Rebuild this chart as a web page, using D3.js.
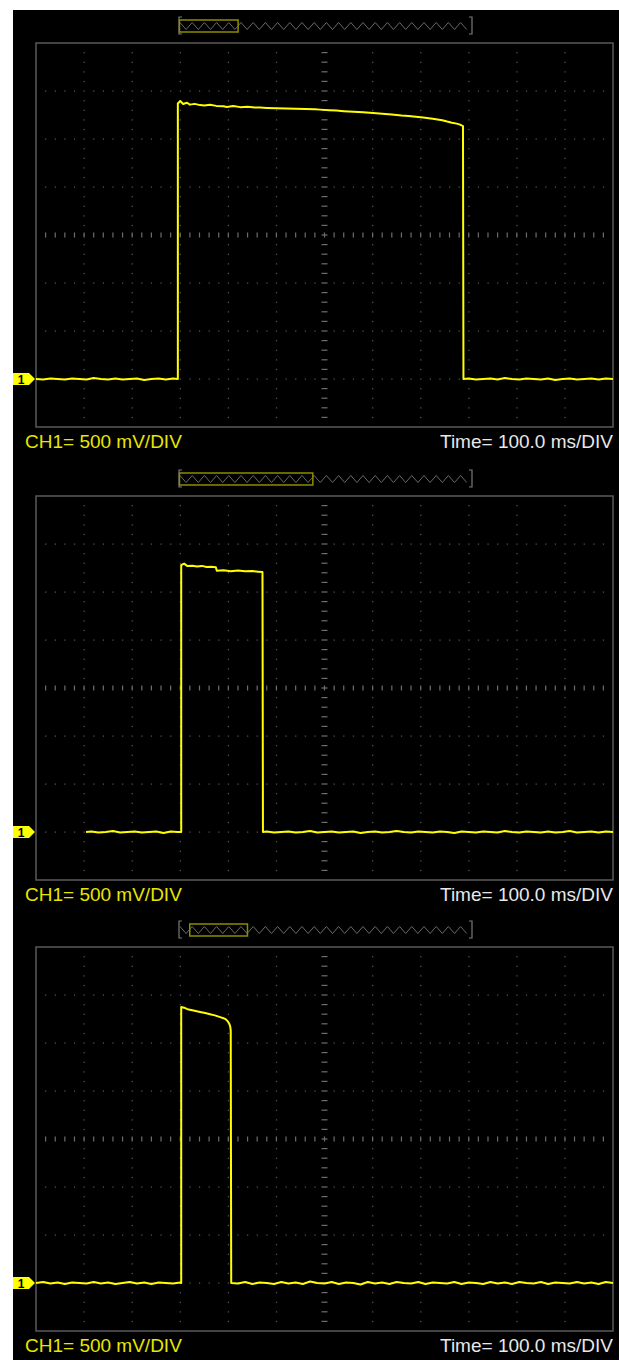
<!DOCTYPE html>
<html>
<head>
<meta charset="utf-8">
<script src="https://cdn.jsdelivr.net/npm/d3@7"></script>
<style>
  html, body { margin: 0; padding: 0; background: #fff; }
  svg { display: block; }
</style>
</head>
<body>
<div id="scope"></div>
<script>
// captured traces: [time ms, CH1 mV], ground = 0 mV
const trace1 = [
  [0, 0], [15, -5], [30, 5], [45, 0], [60, -5], [75, 5], [90, 0], [105, -5], [120, 10], [135, 0],
  [150, -5], [165, 5], [180, -5], [195, 0], [210, 5], [225, -10], [240, 0], [255, 5], [270, -5],
  [285, 5], [295, 0],
  [295, 2870], [300, 2895], [306, 2865], [314, 2878], [320, 2858], [330, 2866], [341, 2853], [350, 2850],
  [362, 2857], [375, 2845], [390, 2840], [397, 2834], [410, 2843], [425, 2832], [440, 2835], [455, 2828],
  [466, 2827], [480, 2824], [500, 2820], [520, 2818], [540, 2815], [560, 2812], [580, 2810], [591, 2806],
  [610, 2800], [625, 2796], [640, 2790], [660, 2783], [680, 2778], [701, 2770], [720, 2763], [740, 2755],
  [760, 2745], [775, 2740], [790, 2732], [805, 2724], [813, 2719], [825, 2710], [835, 2703], [845, 2696],
  [855, 2682], [865, 2670], [875, 2660], [882, 2650], [888, 2635],
  [889, 0], [900, 5], [915, -5], [930, 0], [945, 5], [960, -5], [975, 10], [990, 0], [1005, -5],
  [1020, 5], [1035, 0], [1050, -5], [1065, 5], [1080, -10], [1095, 0], [1110, 5], [1125, -5],
  [1140, 0], [1155, 5], [1170, -5], [1185, 5], [1200, 0],
];

const trace2 = [
  [104, 0], [115, 5], [130, -5], [145, 0], [160, 10], [175, -5], [190, 0], [205, 5], [220, -5],
  [235, 0], [250, 5], [265, -10], [280, 5], [295, 0], [302, 0],
  [302, 2780], [308, 2795], [315, 2770], [325, 2774], [335, 2765], [345, 2772], [355, 2760], [365, 2763],
  [374, 2758], [376, 2722], [390, 2726], [405, 2717], [420, 2723], [435, 2715], [450, 2718], [462, 2712],
  [471, 2708],
  [472, 0], [480, 5], [495, -5], [510, 0], [525, 5], [540, -5], [555, 0], [570, 10], [585, -5],
  [600, 0], [615, 5], [630, -5], [645, 0], [660, 5], [675, -10], [690, 0], [705, 5], [720, -5],
  [735, 0], [750, 10], [765, 0], [780, -5], [795, 5], [810, 0], [825, -5], [840, 5], [855, 0],
  [870, -10], [885, 5], [900, 0], [915, -5], [930, 5], [945, 0], [960, -5], [975, 10], [990, 0],
  [1005, -5], [1020, 5], [1035, 0], [1050, -5], [1065, 5], [1080, -5], [1095, 0], [1110, 10],
  [1125, -5], [1140, 0], [1155, 5], [1170, -5], [1185, 5], [1200, 0],
];

const trace3 = [
  [0, 0], [15, 10], [30, -5], [45, 5], [60, -10], [75, 5], [90, 0], [105, -5], [120, 10], [135, -5],
  [150, 5], [165, -10], [180, 0], [195, 10], [210, -5], [225, 5], [240, -10], [255, 5], [270, 0],
  [285, -5], [300, 5], [302, 0],
  [302, 2875], [308, 2868], [315, 2852], [320, 2846], [330, 2835], [341, 2823], [352, 2812], [362, 2800],
  [372, 2788], [383, 2770], [390, 2758], [395, 2745], [399, 2725], [402, 2700], [404, 2670], [405, 2630],
  [406, 0], [420, -5], [435, 10], [450, -10], [465, 5], [480, 0], [495, -10], [510, 10], [525, -5],
  [540, 5], [555, -10], [570, 15], [585, 0], [600, -5], [615, 10], [630, -10], [645, 5], [660, 0],
  [675, -15], [690, 10], [705, -5], [720, 5], [735, -10], [750, 10], [765, 0], [780, -5], [795, 10],
  [810, -10], [825, 5], [840, 0], [855, -5], [870, 10], [885, -10], [900, 5], [915, 0], [930, -10],
  [945, 10], [960, -5], [975, 5], [990, -10], [1005, 10], [1020, 0], [1035, -5], [1050, 10],
  [1065, -10], [1080, 5], [1095, 0], [1110, -5], [1125, 10], [1140, -5], [1155, 5], [1170, -10],
  [1185, 10], [1200, 0],
];

// part of the memory record shown on screen (fraction of record)
const memWindows = [[0, 0.2], [0, 0.455], [0.035, 0.232]];
const voltLabels = ['CH1= 500 mV/DIV', 'CH1= 500 mV/DIV', 'CH1= 500 mV/DIV'];
const timeLabels = ['Time= 100.0 ms/DIV', 'Time= 100.0 ms/DIV', 'Time= 100.0 ms/DIV'];
const traces = [trace1, trace2, trace3];

const width = 619, height = 1360;
const boxLeft = 36, boxWidth = 577, boxHeight = 384;
const panelTops = [43, 496, 947];
const xDivs = 12, yDivs = 8, subDivs = 5;
const memLeft = 179, memRight = 472;

const font = '"Liberation Sans", Arial, sans-serif';

let svg = d3
  .select('#scope')
  .append('svg')
  .attr('width', width)
  .attr('height', height);

svg
  .append('rect')
  .attr('x', 13)
  .attr('y', 10)
  .attr('width', width - 13)
  .attr('height', height - 10)
  .attr('fill', '#000');

function drawGrid(g) {
  let dx = boxWidth / xDivs / subDivs;
  let dy = boxHeight / yDivs / subDivs;
  let dots = [];
  let ticks = [];
  // vertical division lines
  for (let i = 1; i < xDivs; i++) {
    for (let k = 1; k < yDivs * subDivs; k++) {
      let px = boxLeft + (i * boxWidth) / xDivs;
      let py = k * dy;
      if (i === xDivs / 2) ticks.push({ x1: px - 3, x2: px + 3, y1: py, y2: py });
      else dots.push([px, py]);
    }
  }
  // horizontal division lines
  for (let j = 1; j < yDivs; j++) {
    for (let k = 1; k < xDivs * subDivs; k++) {
      let px = boxLeft + k * dx;
      let py = (j * boxHeight) / yDivs;
      if (j === yDivs / 2) ticks.push({ x1: px, x2: px, y1: py - 2.5, y2: py + 2.5 });
      else if (k % subDivs !== 0) dots.push([px, py]);
    }
  }
  g.append('g')
    .selectAll('rect')
    .data(dots)
    .join('rect')
    .attr('x', d => d[0] - 0.5)
    .attr('y', d => d[1] - 0.5)
    .attr('width', 1.2)
    .attr('height', 1.2)
    .attr('fill', '#5c5c5c');
  g.append('g')
    .selectAll('line')
    .data(ticks)
    .join('line')
    .attr('x1', d => d.x1)
    .attr('x2', d => d.x2)
    .attr('y1', d => d.y1)
    .attr('y2', d => d.y2)
    .attr('stroke', '#6e6e6e')
    .attr('stroke-width', 1.2);
  g.append('rect')
    .attr('x', boxLeft)
    .attr('y', 0)
    .attr('width', boxWidth)
    .attr('height', boxHeight)
    .attr('fill', 'none')
    .attr('stroke', '#5a5a5a')
    .attr('stroke-width', 1.5);
}

function drawMemoryBar(g, win) {
  let mid = -17;
  let mem = d3.scaleLinear([0, 1], [memLeft, memRight]);
  let half = 6.1;
  let zig = [];
  for (let px = memLeft + 1, up = true; px <= memRight - 1; px += half, up = !up) {
    zig.push([px, up ? mid - 3.5 : mid + 3.5]);
  }
  g.append('path')
    .attr('d', d3.line()(zig))
    .attr('fill', 'none')
    .attr('stroke', '#6a6a6a')
    .attr('stroke-width', 1);
  let br = `M${memLeft + 3},${mid - 9}H${memLeft}V${mid + 8}H${memLeft + 3}` +
    `M${memRight - 3},${mid - 9}H${memRight}V${mid + 8}H${memRight - 3}`;
  g.append('path')
    .attr('d', br)
    .attr('fill', 'none')
    .attr('stroke', '#7a7a7a')
    .attr('stroke-width', 1.2);
  g.append('rect')
    .attr('x', mem(win[0]) + 0.5)
    .attr('y', mid - 6)
    .attr('width', mem(win[1]) - mem(win[0]))
    .attr('height', 12)
    .attr('fill', 'none')
    .attr('stroke', '#8c8c00')
    .attr('stroke-width', 1.5);
}

panelTops.forEach((top, i) => {
  let g = svg.append('g').attr('transform', `translate(0,${top})`);
  let x = d3.scaleLinear([0, 1200], [boxLeft, boxLeft + boxWidth]);
  let y = d3.scaleLinear([-500, 3500], [boxHeight, 0]);

  drawMemoryBar(g, memWindows[i]);
  drawGrid(g);

  let clipId = 'clip' + i;
  g.append('clipPath')
    .attr('id', clipId)
    .append('rect')
    .attr('x', boxLeft)
    .attr('y', 0)
    .attr('width', boxWidth)
    .attr('height', boxHeight);

  let line = d3
    .line()
    .x(d => x(d[0]))
    .y(d => y(d[1]));

  g.append('path')
    .datum(traces[i])
    .attr('clip-path', `url(#${clipId})`)
    .attr('d', line)
    .attr('fill', 'none')
    .attr('stroke', '#ffff00')
    .attr('stroke-width', 2)
    .attr('stroke-linejoin', 'round');

  // ground marker for channel 1
  let gy = y(0);
  g.append('path')
    .attr('d', `M13,${gy - 6}H29L35,${gy}L29,${gy + 6}H13Z`)
    .attr('fill', '#ffff00');
  g.append('text')
    .attr('x', 21)
    .attr('y', gy + 4.5)
    .attr('text-anchor', 'middle')
    .attr('font-family', font)
    .attr('font-weight', 'bold')
    .attr('font-size', 12)
    .attr('fill', '#000')
    .text('1');

  g.append('text')
    .attr('x', 25)
    .attr('y', boxHeight + 21)
    .attr('font-family', font)
    .attr('font-size', 19)
    .attr('fill', '#e6e600')
    .text(voltLabels[i]);
  g.append('text')
    .attr('x', boxLeft + boxWidth)
    .attr('y', boxHeight + 21)
    .attr('text-anchor', 'end')
    .attr('font-family', font)
    .attr('font-size', 19)
    .attr('fill', '#e8e8e8')
    .text(timeLabels[i]);
});
</script>
</body>
</html>
